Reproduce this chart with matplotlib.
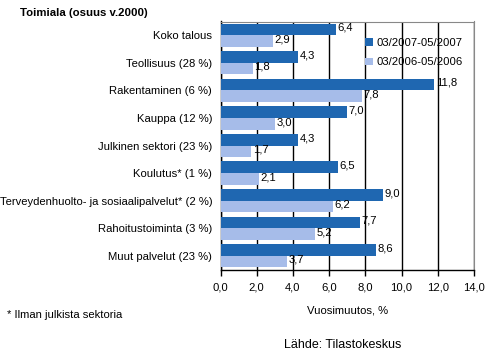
import numpy as np
import matplotlib
matplotlib.use("Agg")
import matplotlib.pyplot as plt

plt.rcParams['font.family'] = ['Liberation Sans', 'DejaVu Sans']

# ====================== DATA ======================
categories = [
    "Koko talous",
    "Teollisuus (28 %)",
    "Rakentaminen (6 %)",
    "Kauppa (12 %)",
    "Julkinen sektori (23 %)",
    "Koulutus* (1 %)",
    "Terveydenhuolto- ja sosiaalipalvelut* (2 %)",
    "Rahoitustoiminta (3 %)",
    "Muut palvelut (23 %)",
]
series_2007 = [6.4, 4.3, 11.8, 7.0, 4.3, 6.5, 9.0, 7.7, 8.6]
series_2006 = [2.9, 1.8, 7.8, 3.0, 1.7, 2.1, 6.2, 5.2, 3.7]
series_names = ["03/2007-05/2007", "03/2006-05/2006"]
x_ticks = [0, 2, 4, 6, 8, 10, 12, 14]
# ==================================================

DARK = "#1f67b1"
LIGHT = "#a6bce9"
FS = 8.1


def fi(v):
    return f"{v:.1f}".replace(".", ",")


fig = plt.figure(figsize=(4.95, 3.62), dpi=100)
ax = fig.add_axes([220.5 / 495, 1 - 269.5 / 362, 253.5 / 495, 248 / 362])

n = len(categories)
y = np.arange(n)
h = 0.42

b1 = ax.barh(y - h / 2, series_2007, height=h, color=DARK, label=series_names[0], zorder=3)
b2 = ax.barh(y + h / 2, series_2006, height=h, color=LIGHT, label=series_names[1], zorder=3)

for bars, vals in [(b1, series_2007), (b2, series_2006)]:
    for bar, v in zip(bars, vals):
        ax.text(bar.get_width() + 0.08, bar.get_y() + bar.get_height() / 2 - 0.06, fi(v),
                va="center", ha="left", fontsize=FS, zorder=4)

ax.set_xlim(0, 14)
ax.set_ylim(n - 0.5, -0.5)
ax.set_xticks(x_ticks)
ax.set_xticklabels([fi(t) for t in x_ticks], fontsize=FS)
ax.set_yticks(y)
ax.set_yticklabels(categories, fontsize=FS)
ax.tick_params(axis="y", length=0, pad=6)
ax.tick_params(axis="x", length=4, width=1, direction="out", pad=5)

ax.xaxis.grid(True, color="black", linewidth=1, zorder=0)
ax.set_axisbelow(True)
for s in ["top", "right"]:
    ax.spines[s].set_color("#888888")
for s in ["left", "bottom"]:
    ax.spines[s].set_color("black")
    ax.spines[s].set_linewidth(1)

ax.set_xlabel("Vuosimuutos, %", fontsize=FS, labelpad=10)

leg = ax.legend(loc="upper left", bbox_to_anchor=(0.53, 0.975), frameon=False,
                fontsize=FS, handlelength=0.7, handleheight=0.7, handletextpad=0.3,
                labelspacing=0.85)

fig.text(20 / 495, 1 - 13 / 362, "Toimiala (osuus v.2000)", fontsize=8.2,
         fontweight="bold", va="center", ha="left")
fig.text(7 / 495, 1 - 315 / 362, "* Ilman julkista sektoria", fontsize=FS,
         va="center", ha="left")
fig.text(343 / 495, 1 - 345 / 362, "Lähde: Tilastokeskus", fontsize=9,
         va="center", ha="center")

fig.savefig("out.png", dpi=100)
